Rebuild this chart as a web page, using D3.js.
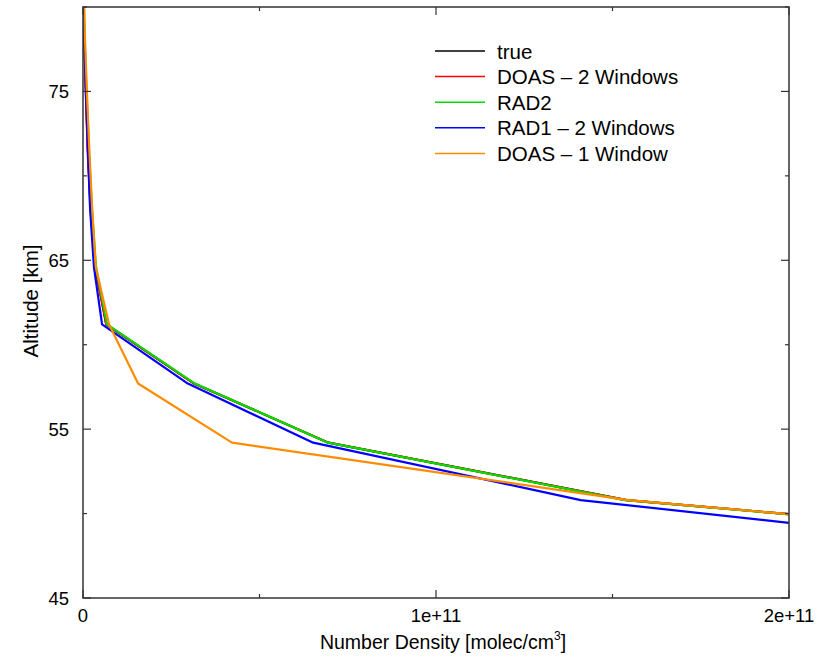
<!DOCTYPE html>
<html>
<head>
<meta charset="utf-8">
<script src="https://cdn.jsdelivr.net/npm/d3@7"></script>
<style>
  body { margin: 0; background: #fff; }
  text { font-family: "Liberation Sans", Arial, sans-serif; fill: #000; }
</style>
</head>
<body>
<script>
// altitude grid [km] shared by all profiles
let altitude = [82.0, 78.5, 75.0, 71.5, 68.1, 64.6, 61.2, 57.7, 54.2, 50.8, 47.3];

// number density [molec/cm3]
let trueVals  = [0.1e9, 0.3e9, 0.8e9, 1.4e9, 2.2e9, 3.5e9, 6.6e9, 3.15e10, 6.95e10, 1.54e11, 3.47e11];
let doas2Vals = [0.1e9, 0.3e9, 0.8e9, 1.3e9, 2.1e9, 3.4e9, 6.6e9, 3.15e10, 6.95e10, 1.54e11, 3.47e11];
let rad2Vals  = [0.1e9, 0.4e9, 1.0e9, 1.7e9, 2.5e9, 3.7e9, 6.8e9, 3.17e10, 6.94e10, 1.535e11, 3.46e11];
let rad1Vals  = [0.1e9, 0.3e9, 0.85e9, 1.4e9, 2.0e9, 3.1e9, 5.4e9, 2.97e10, 6.52e10, 1.41e11, 2.94e11];
let doas1Vals = [0.15e9, 0.5e9, 1.1e9, 1.8e9, 2.6e9, 3.6e9, 7.4e9, 1.56e10, 4.22e10, 1.545e11, 3.45e11];

let seriesNames = ["true", "DOAS \u2013 2 Windows", "RAD2", "RAD1 \u2013 2 Windows", "DOAS \u2013 1 Window"];
let seriesVals = [trueVals, doas2Vals, rad2Vals, rad1Vals, doas1Vals];
let colors = ["#000000", "#ff0000", "#00dd00", "#0000ff", "#ff8c00"];

let xMajor = [0, 1e11, 2e11];
let xMajorLabels = ["0", "1e+11", "2e+11"];
let xMinor = [0.5e11, 1.5e11];
let yMajor = [45, 55, 65, 75];
let yMinor = [50, 60, 70, 80];

let w = 817;
let h = 658;
let pLeft = 83, pRight = 789, pTop = 7, pBottom = 598;

const svg = d3.select("body")
  .append("svg")
  .attr("width", w)
  .attr("height", h);

let x = d3.scaleLinear().domain([0, 2e11]).range([pLeft, pRight]);
let y = d3.scaleLinear().domain([45, 80]).range([pBottom, pTop]);

svg.append("clipPath")
  .attr("id", "plotclip")
  .append("rect")
  .attr("x", pLeft)
  .attr("y", pTop)
  .attr("width", pRight - pLeft)
  .attr("height", pBottom - pTop);

// curves
let line = d3.line()
  .x(function(d){ return x(d[0]); })
  .y(function(d){ return y(d[1]); });

svg.append("g")
  .attr("clip-path", "url(#plotclip)")
  .selectAll("path")
  .data(seriesVals)
  .enter()
  .append("path")
  .attr("d", function(vals){
    return line(vals.map(function(v, i){ return [v, altitude[i]]; }));
  })
  .attr("fill", "none")
  .attr("stroke", function(d, i){ return colors[i]; })
  .attr("stroke-width", 2.2)
  .attr("stroke-linejoin", "round");

// ticks on all four sides (mirrored)
let ticks = svg.append("g").attr("stroke", "#333").attr("stroke-width", 1.2);

function xTicks(vals, len){
  vals.forEach(function(v){
    ticks.append("line").attr("x1", x(v)).attr("x2", x(v)).attr("y1", pBottom).attr("y2", pBottom - len);
    ticks.append("line").attr("x1", x(v)).attr("x2", x(v)).attr("y1", pTop).attr("y2", pTop + len);
  });
}
function yTicks(vals, len){
  vals.forEach(function(v){
    ticks.append("line").attr("x1", pLeft).attr("x2", pLeft + len).attr("y1", y(v)).attr("y2", y(v));
    ticks.append("line").attr("x1", pRight).attr("x2", pRight - len).attr("y1", y(v)).attr("y2", y(v));
  });
}
xTicks(xMajor, 8);
xTicks(xMinor, 4);
yTicks(yMajor, 8);
yTicks(yMinor, 4);

// frame
svg.append("rect")
  .attr("x", pLeft)
  .attr("y", pTop)
  .attr("width", pRight - pLeft)
  .attr("height", pBottom - pTop)
  .attr("fill", "none")
  .attr("stroke", "#333")
  .attr("stroke-width", 1.5);

// tick labels
svg.selectAll("text.xl")
  .data(xMajor)
  .enter()
  .append("text")
  .attr("class", "xl")
  .attr("x", function(d){ return x(d); })
  .attr("y", 622)
  .attr("text-anchor", "middle")
  .attr("font-size", 18.5)
  .text(function(d, i){ return xMajorLabels[i]; });

svg.selectAll("text.yl")
  .data(yMajor)
  .enter()
  .append("text")
  .attr("class", "yl")
  .attr("x", 69)
  .attr("y", function(d){ return y(d) + 6.5; })
  .attr("text-anchor", "end")
  .attr("font-size", 18.5)
  .text(function(d){ return d; });

// axis titles
let xt = svg.append("text")
  .attr("x", 443)
  .attr("y", 649)
  .attr("text-anchor", "middle")
  .attr("font-size", 19.5);
xt.append("tspan").text("Number Density [molec/cm");
xt.append("tspan").attr("dy", -9).attr("font-size", 12).text("3");
xt.append("tspan").attr("dy", 9).text("]");

svg.append("text")
  .attr("transform", "translate(38,301) rotate(-90)")
  .attr("text-anchor", "middle")
  .attr("font-size", 20.5)
  .text("Altitude [km]");

// legend
let legend = svg.append("g");
seriesNames.forEach(function(name, i){
  let ly = 51 + i * 25.6;
  legend.append("line")
    .attr("x1", 435).attr("x2", 485)
    .attr("y1", ly).attr("y2", ly)
    .attr("stroke", colors[i])
    .attr("stroke-width", 1.5);
  legend.append("text")
    .attr("x", 497)
    .attr("y", ly + 7.5)
    .attr("font-size", 20.5)
    .text(name);
});
</script>
</body>
</html>
